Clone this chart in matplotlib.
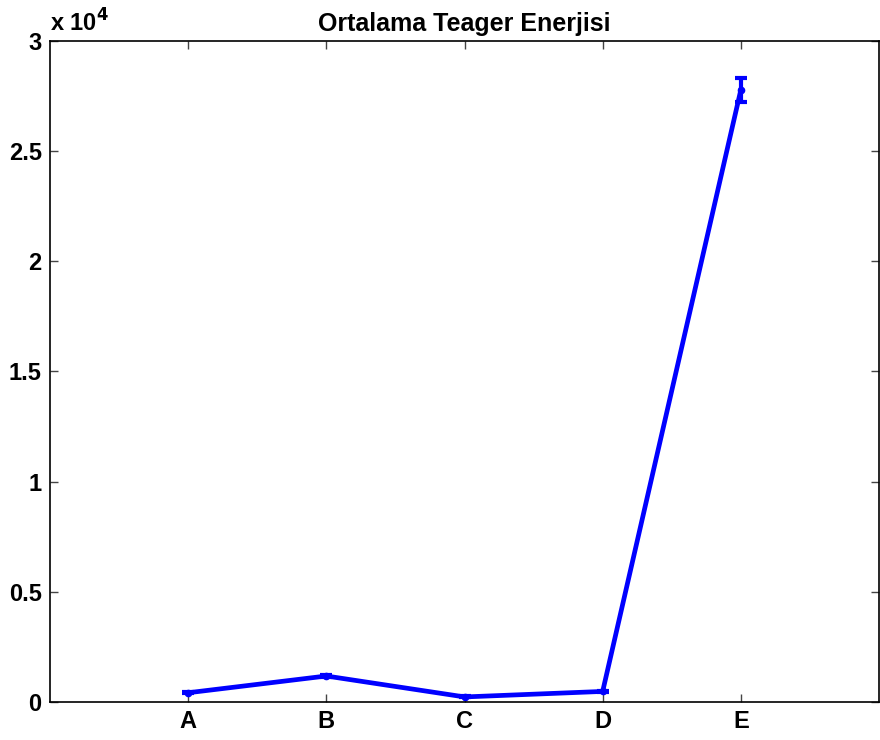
import matplotlib
matplotlib.use("Agg")
import matplotlib.pyplot as plt

plt.rcParams['font.family'] = ['Liberation Sans', 'DejaVu Sans']

categories = ['A', 'B', 'C', 'D', 'E']
means = [420, 1180, 230, 480, 27780]
errors = [30, 30, 20, 30, 540]
yticks = [0, 5000, 10000, 15000, 20000, 25000, 30000]
ytick_labels = ['0', '0.5', '1', '1.5', '2', '2.5', '3']

fig = plt.figure(figsize=(8.8, 7.4), dpi=100)
ax = fig.add_axes([50 / 880, 38 / 740, 829 / 880, 661 / 740])

x = list(range(1, len(categories) + 1))
ax.errorbar(x, means, yerr=errors, color='#0000ff', linewidth=3.4,
            elinewidth=3.0, capsize=4, capthick=3.0, marker='o', markersize=4.5)

ax.set_xlim(0, 6)
ax.set_ylim(0, 30000)
ax.set_xticks(x)
ax.set_xticklabels(categories)
ax.set_yticks(yticks)
ax.set_yticklabels(ytick_labels)

ax.tick_params(direction='in', length=6, width=1, top=True, right=True,
               labelsize=17, pad=6, color='#444444')
for lbl in ax.get_xticklabels() + ax.get_yticklabels():
    lbl.set_fontweight('bold')
for s in ax.spines.values():
    s.set_linewidth(1.2)

ax.set_title('Ortalama Teager Enerjisi', fontsize=18, fontweight='bold', pad=7)
ax.text(0.0, 1.006, r'x 10$^{\mathbf{4}}$', transform=ax.transAxes,
        fontsize=17, fontweight='bold', ha='left', va='bottom')

fig.savefig('out.png', dpi=100)
